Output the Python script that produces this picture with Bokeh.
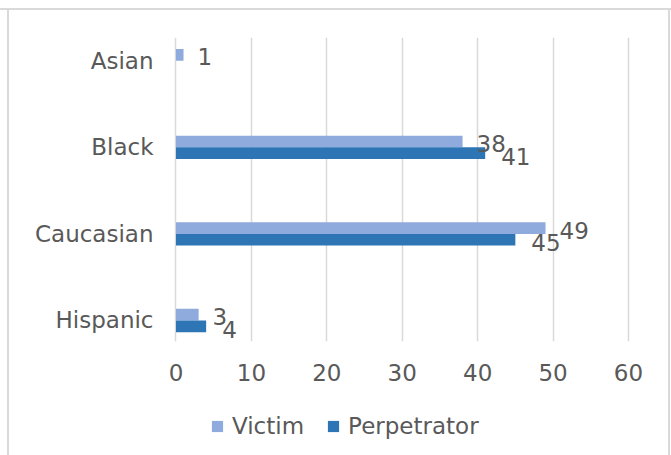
from bokeh.plotting import figure
from bokeh.layouts import column
from bokeh.models import Range1d, FixedTicker, ColumnDataSource, Legend, LegendItem
from bokeh.core.properties import value
from bokeh.embed import file_html
from bokeh.resources import INLINE

categories = ["Asian", "Black", "Caucasian", "Hispanic"]
victim = [1, 38, 49, 3]
perpetrator = [0, 41, 45, 4]
x_ticks = [0, 10, 20, 30, 40, 50, 60]
series = ["Victim", "Perpetrator"]

FONT = "DejaVu Sans"
TXT = "#595959"
GRID = "#d9d9d9"
C_VIC = "#8FAADC"
C_PER = "#2E75B6"

n = len(categories)
pos = [n - 1 - i for i in range(n)]
bh = 0.135

src = ColumnDataSource(dict(
    cat=categories,
    yv=[p + bh / 2 for p in pos],
    yp=[p - bh / 2 for p in pos],
    victim=victim,
    perpetrator=perpetrator,
    vlab=[str(v) for v in victim],
    plab=[str(v) if v > 0 else "" for v in perpetrator],
))

p = figure(width=671, height=390, output_backend="svg", toolbar_location=None,
           x_range=Range1d(-0.33, 60.4), y_range=Range1d(-0.243, 3.269),
           min_border_left=173, min_border_right=40, min_border_top=37,
           min_border_bottom=49)
p.outline_line_color = None
p.background_fill_color = "white"
p.border_fill_alpha = 0

p.hbar(y="yv", right="victim", left=0, height=bh, source=src,
       fill_color=C_VIC, line_color=None)
p.hbar(y="yp", right="perpetrator", left=0, height=bh, source=src,
       fill_color=C_PER, line_color=None)

p.text(x="victim", y="yv", text="vlab", source=src, x_offset=14, y_offset=2,
       text_align="left", text_baseline="middle", text_color=TXT,
       text_font=value(FONT), text_font_size="23px")
p.text(x="perpetrator", y="yp", text="plab", source=src, x_offset=16, y_offset=3,
       text_align="left", text_baseline="middle", text_color=TXT,
       text_font=value(FONT), text_font_size="23px")

# x axis
p.xaxis.ticker = FixedTicker(ticks=x_ticks)
p.xaxis.axis_line_color = None
p.xaxis.major_tick_line_color = None
p.xaxis.minor_tick_line_color = None
p.xaxis.major_label_text_font = FONT
p.xaxis.major_label_text_font_size = "23px"
p.xaxis.major_label_text_color = TXT
p.xaxis.major_label_standoff = 16

# y axis
p.yaxis.ticker = FixedTicker(ticks=pos)
p.yaxis.major_label_overrides = {pos[i]: categories[i] for i in range(n)}
p.yaxis.axis_line_color = None
p.yaxis.major_tick_line_color = None
p.yaxis.minor_tick_line_color = None
p.yaxis.major_label_text_font = FONT
p.yaxis.major_label_text_font_size = "23px"
p.yaxis.major_label_text_color = TXT
p.yaxis.major_label_standoff = 14

p.xgrid.grid_line_color = GRID
p.xgrid.grid_line_width = 1.5
p.ygrid.grid_line_color = None

# legend strip
q = figure(width=671, height=65, output_backend="svg", toolbar_location=None,
           x_range=Range1d(0, 1), y_range=Range1d(0, 1),
           x_axis_type=None, y_axis_type=None,
           min_border_left=0, min_border_right=0, min_border_top=0,
           min_border_bottom=0)
q.outline_line_color = None
q.background_fill_alpha = 0
q.border_fill_alpha = 0
lv = q.hbar(y=[-5], right=[1], left=0, height=0.1, fill_color=C_VIC, line_color=None)
lp = q.hbar(y=[-5], right=[1], left=0, height=0.1, fill_color=C_PER, line_color=None)
legend = Legend(items=[LegendItem(label=series[0], renderers=[lv]),
                       LegendItem(label=series[1], renderers=[lp])],
                orientation="horizontal", location=(37, 16),
                label_text_font=FONT, label_text_font_size="23px",
                label_text_color=TXT, glyph_width=14, glyph_height=14,
                label_standoff=8, spacing=22, padding=0, margin=0,
                border_line_color=None, background_fill_alpha=0)
q.add_layout(legend, "center")

layout = column(p, q, spacing=0)
layout.styles = {
    "background-color": "white",
    "background-image": "linear-gradient(#d9d9d9,#d9d9d9), linear-gradient(#d9d9d9,#d9d9d9), linear-gradient(#d9d9d9,#d9d9d9)",
    "background-size": "671px 2px, 2px 446px, 2px 446px",
    "background-position": "0px 8px, 7px 9px, 668px 9px",
    "background-repeat": "no-repeat",
}

open("out.html", "w").write(file_html(layout, INLINE))
